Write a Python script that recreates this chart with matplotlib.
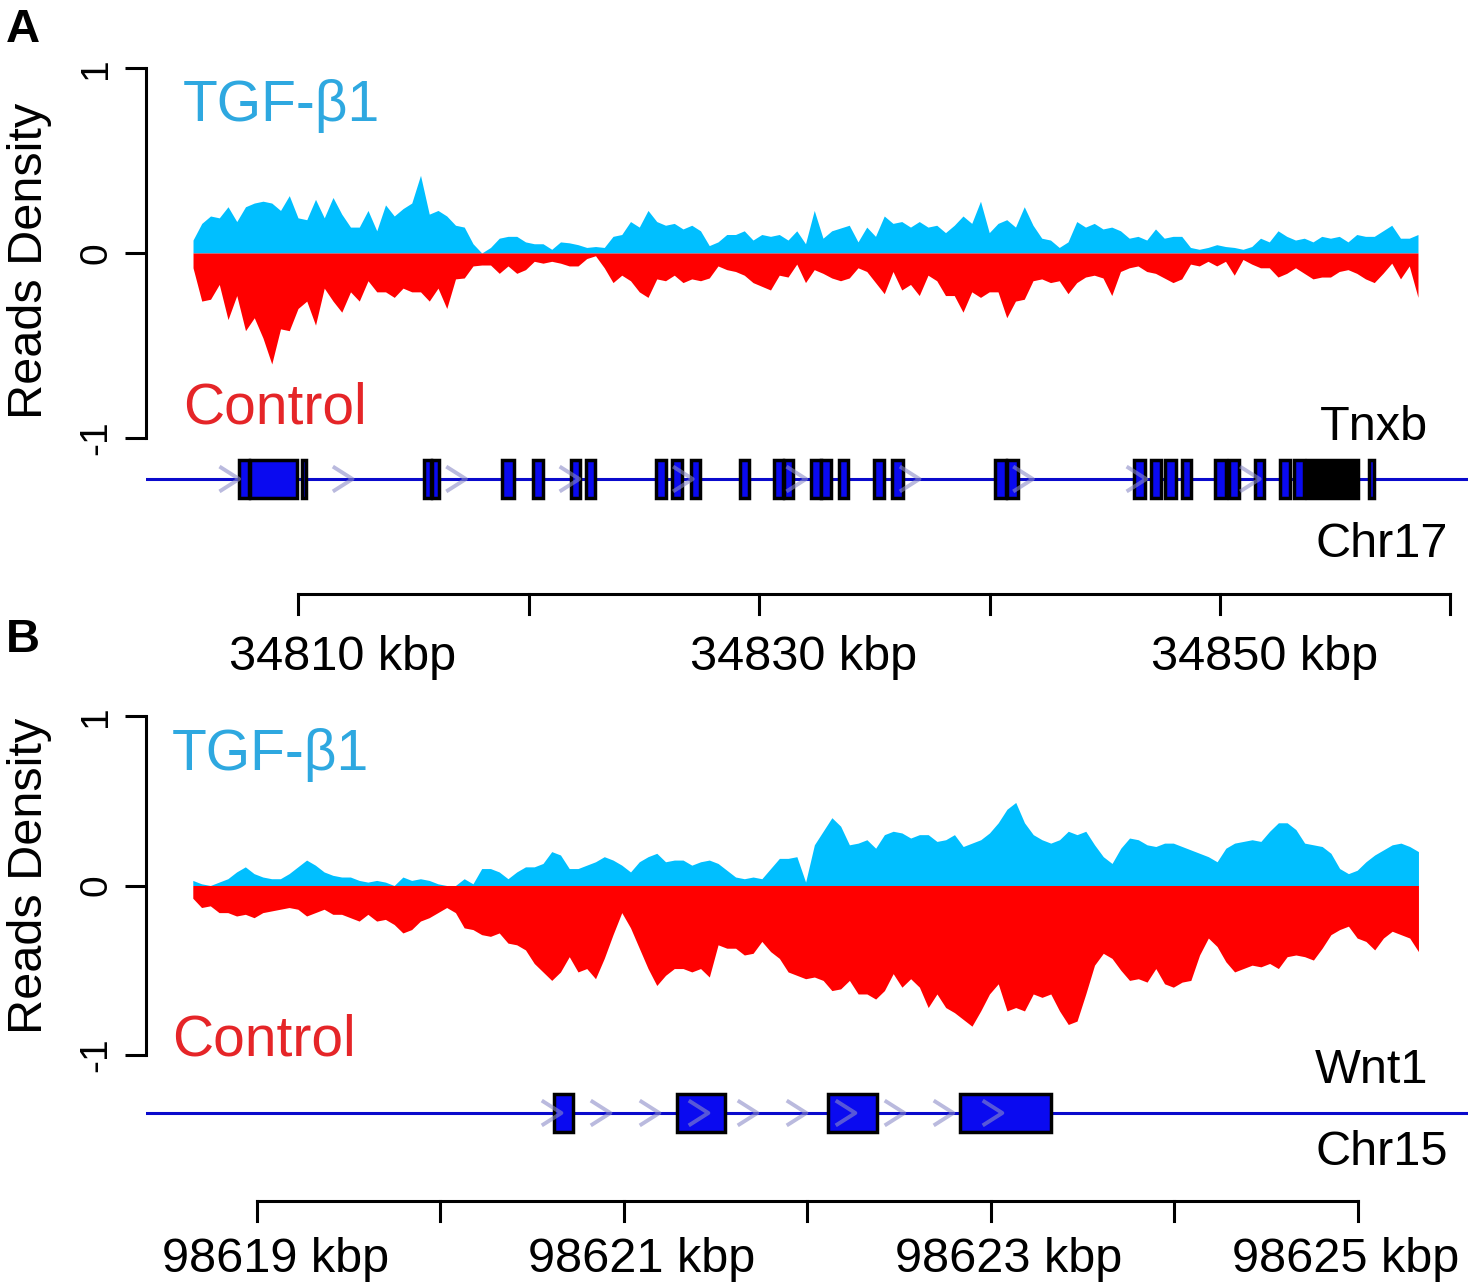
#RNA-seq reads density, two genes (Tnxb, Wnt1)
import numpy as np
import matplotlib
matplotlib.use("Agg")
import matplotlib.pyplot as plt
from matplotlib.patches import Rectangle

plt.rcParams['font.family'] = ['Liberation Sans', 'DejaVu Sans']

W, H = 1472, 1286

# ---------- panel A: Tnxb, Chr17 (kbp) ----------
a_view = (34803.4, 34860.76)
a_signal = (34805.44, 34858.59)
a_tgf = [0.07, 0.16, 0.20, 0.19, 0.25, 0.17, 0.25, 0.27, 0.28, 0.27,
         0.23, 0.31, 0.19, 0.18, 0.29, 0.19, 0.30, 0.21, 0.14, 0.14,
         0.23, 0.12, 0.26, 0.20, 0.24, 0.27, 0.42, 0.21, 0.23, 0.20,
         0.15, 0.14, 0.05, 0.00, 0.03, 0.08, 0.09, 0.09, 0.06, 0.05,
         0.05, 0.02, 0.06, 0.055, 0.045, 0.03, 0.035, 0.03, 0.09, 0.10,
         0.17, 0.14, 0.23, 0.17, 0.15, 0.16, 0.13, 0.15, 0.12, 0.04,
         0.06, 0.10, 0.10, 0.12, 0.07, 0.10, 0.09, 0.10,
         0.07, 0.12, 0.05, 0.23, 0.08, 0.12, 0.135, 0.15, 0.06, 0.14,
         0.09, 0.20, 0.16, 0.17, 0.14, 0.17, 0.14, 0.15, 0.11, 0.15,
         0.20, 0.16, 0.28, 0.11, 0.16, 0.18, 0.14, 0.25, 0.15, 0.08,
         0.07, 0.03, 0.06, 0.17, 0.14, 0.16, 0.13, 0.14, 0.12, 0.08,
         0.09, 0.07, 0.13, 0.08, 0.09, 0.09, 0.03, 0.02, 0.03, 0.045,
         0.035, 0.03, 0.02, 0.035, 0.08, 0.06, 0.12, 0.09, 0.07, 0.08,
         0.06, 0.09, 0.08, 0.09, 0.06, 0.10, 0.09, 0.09, 0.12, 0.15,
         0.08, 0.08, 0.10]
a_ctrl = [-0.08, -0.26, -0.25, -0.17, -0.36, -0.23, -0.42, -0.35, -0.46, -0.60,
          -0.41, -0.42, -0.30, -0.26, -0.39, -0.19, -0.26, -0.32, -0.21, -0.26,
          -0.15, -0.21, -0.21, -0.24, -0.19, -0.21, -0.21, -0.26, -0.19, -0.30,
          -0.14, -0.135, -0.07, -0.065, -0.065, -0.11, -0.07, -0.11, -0.09, -0.045,
          -0.055, -0.045, -0.055, -0.07, -0.07, -0.03, -0.015, -0.08, -0.16, -0.12,
          -0.15, -0.21, -0.24, -0.14, -0.15, -0.12, -0.16, -0.14, -0.15, -0.135,
          -0.07, -0.09, -0.10, -0.12, -0.16, -0.18, -0.20, -0.12,
          -0.13, -0.06, -0.16, -0.09, -0.11, -0.135, -0.15, -0.135, -0.08, -0.10,
          -0.16, -0.22, -0.10, -0.20, -0.17, -0.23, -0.12, -0.15, -0.23, -0.23,
          -0.32, -0.21, -0.24, -0.21, -0.21, -0.35, -0.26, -0.25, -0.15, -0.14,
          -0.16, -0.15, -0.22, -0.16, -0.13, -0.12, -0.135, -0.23, -0.10, -0.08,
          -0.07, -0.10, -0.11, -0.135, -0.16, -0.14, -0.06, -0.07, -0.045, -0.07,
          -0.045, -0.12, -0.035, -0.06, -0.08, -0.08, -0.13, -0.11, -0.08, -0.11,
          -0.14, -0.13, -0.13, -0.10, -0.09, -0.11, -0.14, -0.16, -0.11, -0.055,
          -0.14, -0.07, -0.24]
a_exon_start = [34807.44, 34807.92, 34810.17, 34815.47, 34815.81, 34818.85, 34820.20,
                34821.84, 34822.49, 34825.53, 34826.23, 34827.05, 34829.18, 34830.65,
                34831.08, 34832.26, 34832.69, 34833.47, 34834.99, 34835.77, 34840.24,
                34840.76, 34846.27, 34847.01, 34847.61, 34848.35, 34849.78, 34850.39,
                34851.52, 34852.60, 34853.21, 34856.46]
a_exon_end = [34807.87, 34809.96, 34810.35, 34815.77, 34816.12, 34819.37, 34820.63,
              34822.23, 34822.89, 34825.97, 34826.66, 34827.44, 34829.57, 34831.04,
              34831.48, 34832.69, 34833.12, 34833.86, 34835.42, 34836.25, 34840.72,
              34841.24, 34846.75, 34847.44, 34848.09, 34848.74, 34850.26, 34850.82,
              34851.91, 34853.04, 34853.64, 34856.68]
a_dense = [(34853.77, 34855.99)]   # overlapping exons, drawn solid
a_ticks = [34810, 34820, 34830, 34840, 34850, 34860]
a_labels = [34810, 34830, 34850]

# ---------- panel B: Wnt1, Chr15 (kbp) ----------
b_view = (98618.395, 98625.60)
b_signal = (98618.65, 98625.33)
b_tgf = [0.03, 0.01, 0.0, 0.02, 0.04, 0.08, 0.11, 0.07, 0.05, 0.04,
         0.04, 0.07, 0.11, 0.15, 0.12, 0.08, 0.06, 0.05, 0.05, 0.03,
         0.02, 0.03, 0.02, 0.0, 0.05, 0.03, 0.04, 0.03, 0.01, 0.0,
         0.0, 0.04, 0.01, 0.10, 0.10, 0.08, 0.04, 0.08, 0.11, 0.11,
         0.13, 0.20, 0.18, 0.10, 0.10, 0.12, 0.14, 0.17, 0.15, 0.12,
         0.08, 0.14, 0.17, 0.19, 0.14, 0.15, 0.15, 0.12, 0.14, 0.15,
         0.13, 0.09, 0.05, 0.04, 0.05, 0.04, 0.10, 0.16,
         0.16, 0.17, 0.02, 0.24, 0.32, 0.40, 0.35, 0.24, 0.25, 0.27,
         0.22, 0.30, 0.32, 0.31, 0.28, 0.30, 0.30, 0.26, 0.27, 0.30,
         0.23, 0.25, 0.27, 0.31, 0.37, 0.45, 0.49, 0.37, 0.30, 0.27,
         0.25, 0.27, 0.32, 0.30, 0.32, 0.24, 0.17, 0.13, 0.22, 0.28,
         0.27, 0.24, 0.23, 0.25, 0.25, 0.23, 0.21, 0.19, 0.17, 0.14,
         0.22, 0.25, 0.26, 0.27, 0.26, 0.32, 0.37, 0.37, 0.33, 0.25,
         0.24, 0.23, 0.19, 0.10, 0.07, 0.09, 0.14, 0.18, 0.21, 0.24,
         0.25, 0.23, 0.20]
b_ctrl = [-0.075, -0.13, -0.12, -0.16, -0.16, -0.18, -0.17, -0.19, -0.16, -0.15,
          -0.14, -0.13, -0.14, -0.18, -0.16, -0.14, -0.17, -0.17, -0.19, -0.21,
          -0.17, -0.21, -0.20, -0.23, -0.28, -0.26, -0.21, -0.19, -0.16, -0.13,
          -0.16, -0.25, -0.26, -0.29, -0.30, -0.28, -0.34, -0.35, -0.38, -0.46,
          -0.51, -0.56, -0.51, -0.42, -0.51, -0.49, -0.55, -0.43, -0.29, -0.16,
          -0.25, -0.37, -0.49, -0.59, -0.53, -0.49, -0.49, -0.51, -0.49, -0.54,
          -0.35, -0.37, -0.37, -0.41, -0.40, -0.33, -0.39, -0.43,
          -0.51, -0.53, -0.55, -0.54, -0.56, -0.62, -0.61, -0.56, -0.64, -0.64,
          -0.67, -0.62, -0.52, -0.60, -0.55, -0.60, -0.72, -0.64, -0.72, -0.75,
          -0.79, -0.83, -0.74, -0.64, -0.58, -0.74, -0.72, -0.74, -0.64, -0.66,
          -0.64, -0.74, -0.82, -0.80, -0.64, -0.47, -0.40, -0.43, -0.50, -0.56,
          -0.55, -0.57, -0.49, -0.58, -0.60, -0.57, -0.56, -0.41, -0.31, -0.36,
          -0.45, -0.51, -0.49, -0.47, -0.48, -0.46, -0.49, -0.42, -0.41, -0.42,
          -0.44, -0.37, -0.29, -0.26, -0.24, -0.31, -0.33, -0.38, -0.31, -0.27,
          -0.29, -0.31, -0.39]
b_exon_start = [98620.62, 98621.29, 98622.11, 98622.83]
b_exon_end = [98620.72, 98621.55, 98622.38, 98623.33]
b_dense = []
b_ticks = [98619, 98620, 98621, 98622, 98623, 98624, 98625]
b_labels = [98619, 98621, 98623, 98625]

TGF_FILL, CTRL_FILL = '#00BFFF', '#FF0000'
TGF_TEXT, CTRL_TEXT = '#2EA8E0', '#E52528'
GENE_BLUE, EXON_BLUE, CHEV = '#0A0ACC', '#0A0AF0', '#8C8CC8'

fig = plt.figure(figsize=(W / 100, H / 100), dpi=100)


def rect(left, top, right, bottom):
    return [left / W, 1 - bottom / H, (right - left) / W, (bottom - top) / H]


def ftext(x, y, s, **kw):
    fig.text(x / W, 1 - y / H, s, **kw)


def panel(letter, top, y_top, y_bot, ylab_y, view, signal, tgf, ctrl,
          gene_y, starts, ends, dense, chev_first, chev_step,
          gene, chrom, axis_y, ticks, labels, lab_off, lab_drop, gene_txt_y, chr_txt_y,
          tgf_base, ctrl_base, tgf_x):
    # density track
    ax = fig.add_axes(rect(146, y_top, 1468, y_bot))
    pos = np.linspace(signal[0], signal[1], len(tgf))
    ax.fill_between(pos, 0, tgf, color=TGF_FILL, lw=0)
    ax.fill_between(pos, ctrl, 0, color=CTRL_FILL, lw=0)
    ax.set_xlim(view)
    ax.set_ylim(-1, 1)
    for s in ['top', 'right', 'bottom']:
        ax.spines[s].set_visible(False)
    ax.spines['left'].set_linewidth(2.2)
    ax.set_xticks([])
    ax.set_yticks([-1, 0, 1])
    ax.set_yticklabels(['-1', '0', '1'], rotation=90, va='center', fontsize=28)
    ax.tick_params(axis='y', length=15, width=2.2, pad=8)
    ax.patch.set_alpha(0)
    ftext(30, ylab_y, 'Reads Density', rotation=90,
          ha='center', va='center', fontsize=35)
    ftext(tgf_x, tgf_base, 'TGF-\u03b21', color=TGF_TEXT, fontsize=41, va='baseline')
    ftext(tgf_x, ctrl_base, 'Control', color=CTRL_TEXT, fontsize=41, va='baseline')
    ftext(6, top, letter, fontsize=34, fontweight='bold', va='baseline')

    # gene model
    gx = fig.add_axes(rect(146, gene_y - 38, 1468, gene_y + 38))
    gx.set_xlim(view)
    gx.set_ylim(-1, 1)
    gx.axis('off')
    gx.axhline(0, color=GENE_BLUE, lw=2.2, zorder=1)
    for s, e in zip(starts, ends):
        gx.add_patch(Rectangle((s, -0.5), e - s, 1.0, facecolor=EXON_BLUE,
                               edgecolor='black', lw=2.5, zorder=2))
    for s, e in dense:
        gx.add_patch(Rectangle((s, -0.5), e - s, 1.0, facecolor='black',
                               edgecolor='black', lw=2.5, zorder=2))
    kpp = (view[1] - view[0]) / 1322.0
    hw = 9 * kpp
    for c in np.arange(chev_first, max(ends) - chev_step * 0.5, chev_step):
        gx.plot([c - hw, c + hw, c - hw], [0.3, 0, -0.3], color=CHEV, lw=2.8,
                alpha=0.6, zorder=3)
    ftext(1428, gene_txt_y, gene, ha='right', va='baseline', fontsize=35)
    ftext(1448, chr_txt_y, chrom, ha='right', va='baseline', fontsize=35)

    # genome axis
    ga = fig.add_axes(rect(146, axis_y, 1468, axis_y + 20))
    ga.set_xlim(view)
    ga.set_ylim(0, 1)
    ga.axis('off')
    ga.plot([ticks[0], ticks[-1]], [1, 1], color='black', lw=2.2, clip_on=False,
            solid_capstyle='projecting')
    for t in ticks:
        ga.plot([t, t], [1, 0], color='black', lw=2.2, clip_on=False)
    for i, v in enumerate(labels):
        off = lab_off[i] if isinstance(lab_off, list) else lab_off
        ga.annotate(f'{v} kbp', xy=(v, 0), xytext=(off, -lab_drop),
                    textcoords='offset points', ha='center', va='baseline',
                    fontsize=35, annotation_clip=False)


panel('A', 42, 68, 438, 261, a_view, a_signal, a_tgf, a_ctrl,
      479, a_exon_start, a_exon_end, a_dense, 34807.05, 4.92,
      'Tnxb', 'Chr17', 594, a_ticks, a_labels, 32, 40, 440, 557,
      121, 423, 183)
panel('B', 652, 716, 1055, 876, b_view, b_signal, b_tgf, b_ctrl,
      1113, b_exon_start, b_exon_end, b_dense, 98620.61, 0.267,
      'Wnt1', 'Chr15', 1201, b_ticks, b_labels, [13, 13, 13, -9], 37, 1083, 1165,
      770, 1055, 172)

fig.savefig('out.png', dpi=100)
